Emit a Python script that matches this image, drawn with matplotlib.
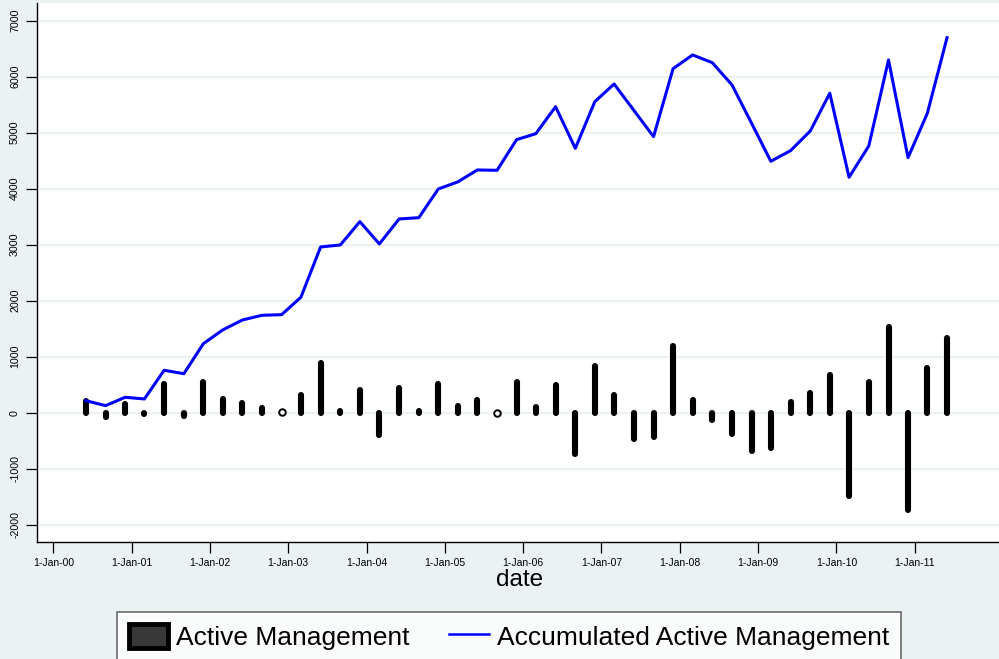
import numpy as np
import pandas as pd
import matplotlib
matplotlib.use('Agg')
import matplotlib.pyplot as plt
import matplotlib.dates as mdates
import matplotlib.patches as mpatches
from matplotlib.lines import Line2D

plt.rcParams['font.family'] = ['Liberation Sans', 'DejaVu Sans']
plt.rcParams['axes.unicode_minus'] = False

# quarterly observations, 1-Jun-00 .. 1-Jun-11
dates = pd.date_range('2000-06-01', periods=45, freq='3MS')

active = [210, -85, 150, -30, 512, -60, 540, 248, 170, 80,
          10, 315, 890, 36, 413, -392, 440, 23, 510, 120,
          218, -6, 545, 110, 490, -740, 836, 318, -470, -440,
          1195, 235, -130, -380, -684, -625, 188, 357, 665, -1495,
          553, 1535, -1740, 798, 1340]

accum = [214, 125, 275, 245, 757, 696, 1232, 1477, 1655, 1739,
         1750, 2061, 2959, 2995, 3411, 3013, 3459, 3482, 3995, 4120,
         4334, 4328, 4875, 4982, 5464, 4720, 5554, 5869, 5399, 4929,
         6143, 6388, 6250, 5852, 5170, 4489, 4679, 5030, 5704, 4204,
         4763, 6298, 4554, 5346, 6696]

xticks = pd.date_range('2000-01-01', periods=12, freq='YS')
yticks = np.arange(-2000, 7001, 1000)

bg = '#EAF2F3'

fig = plt.figure(figsize=(9.99, 6.59), dpi=100, facecolor=bg)
ax = fig.add_axes([36.7/999, 117.3/659, (1003-36.7)/999, (541.7-3.3)/659])
ax.set_facecolor('white')

act = np.array(active)
ax.vlines(dates, 0, act, colors='black', linewidth=4.4, capstyle='round', zorder=3)
# near-zero spikes show up as small rings
tiny = np.abs(act) < 20
ax.scatter(dates[tiny], act[tiny], s=22, facecolors='white', edgecolors='black',
           linewidths=1.4, zorder=3.5)
ax.plot(dates, accum, color='#0000FF', linewidth=2.2, zorder=4)

ax.set_yticks(yticks)
ax.set_ylim(-2304, 7310)
ax.set_xticks(xticks)
ax.xaxis.set_major_formatter(mdates.DateFormatter('%-d-%b-%y'))
x0 = mdates.date2num(pd.Timestamp('2000-01-01'))
ax.set_xlim(x0 - 77.4, x0 + 4430)

ax.grid(axis='y', color=bg, linewidth=1.5, zorder=0)
ax.set_axisbelow(True)
for s in ['top', 'right']:
    ax.spines[s].set_visible(False)
for s in ['left', 'bottom']:
    ax.spines[s].set_linewidth(1.0)
    ax.spines[s].set_color('black')

ax.tick_params(axis='x', length=8, width=0.9, labelsize=7.5, pad=3.5)
ax.tick_params(axis='y', length=8, width=0.9, labelsize=7.7, pad=4, labelrotation=90)
for lab in ax.get_yticklabels():
    lab.set_va('center')

ax.set_xlabel('date', fontsize=17.5, labelpad=1)

h1 = mpatches.Patch(facecolor='#383838', edgecolor='black', linewidth=3.5, joinstyle='round')
h2 = Line2D([], [], color='#0000FF', linewidth=1.8)
leg = fig.legend([h1, h2], ['Active Management', 'Accumulated Active Management'],
                 loc='upper left', bbox_to_anchor=(117/999, 1 - 612/659),
                 ncol=2, fontsize=19, frameon=True, fancybox=False,
                 borderaxespad=0, borderpad=0.45, handlelength=1.5,
                 handleheight=1.05, handletextpad=0.3, columnspacing=1.5)
leg.get_frame().set_edgecolor('#555555')
leg.get_frame().set_linewidth(1.3)
leg.get_frame().set_facecolor('white')

fig.savefig('out.png', dpi=100, facecolor=bg)
